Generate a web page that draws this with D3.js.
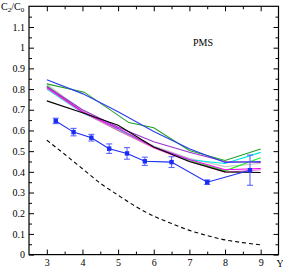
<!DOCTYPE html>
<html>
<head>
<meta charset="utf-8">
<script src="https://cdn.jsdelivr.net/npm/d3@7"></script>
<style>
  body { margin: 0; background: #fff; }
  svg text { font-family: "Liberation Serif", "DejaVu Serif", serif; }
</style>
</head>
<body>
<div id="chart"></div>
<script>
// curves at Y = 3..9 (green has an extra knee)
var xsInt = [3, 4, 5, 6, 7, 8, 9];
var xsGreen = [3, 4.05, 5.3, 6, 7, 8, 9];
var greenY   = [0.825, 0.785, 0.638, 0.613, 0.503, 0.455, 0.510];
var blueY    = [0.845, 0.778, 0.690, 0.595, 0.512, 0.445, 0.450];
var purpleY  = [0.812, 0.700, 0.615, 0.545, 0.495, 0.450, 0.445];
var grayY    = [0.824, 0.695, 0.610, 0.525, 0.465, 0.425, 0.440];
var ltGreenY = [0.816, 0.690, 0.600, 0.520, 0.455, 0.405, 0.468];
var magentaY = [0.808, 0.690, 0.610, 0.520, 0.460, 0.410, 0.416];
var pinkY    = [0.805, 0.688, 0.600, 0.515, 0.450, 0.398, 0.410];
var cyanY    = [0.800, 0.685, 0.605, 0.520, 0.458, 0.440, 0.494];
var blackY   = [0.743, 0.686, 0.625, 0.520, 0.450, 0.400, 0.397];

// dashed curve
var dashX = [3, 3.5, 4, 4.5, 5, 5.5, 6, 6.5, 7, 7.5, 8, 8.5, 9];
var dashY = [0.553, 0.485, 0.415, 0.345, 0.287, 0.232, 0.186, 0.150, 0.117, 0.092, 0.071, 0.058, 0.047];

// measured points with errors
var dataX   = [3.25, 3.75, 4.25, 4.75, 5.25, 5.75, 6.5, 7.5, 8.7];
var dataY   = [0.646, 0.592, 0.565, 0.512, 0.489, 0.451, 0.447, 0.350, 0.408];
var dataErr = [0.013, 0.018, 0.016, 0.023, 0.028, 0.020, 0.026, 0.011, 0.073];

var xTicks = [3, 4, 5, 6, 7, 8, 9];
var xMinor = [3.5, 4.5, 5.5, 6.5, 7.5, 8.5];
var yTicks = [0, 0.1, 0.2, 0.3, 0.4, 0.5, 0.6, 0.7, 0.8, 0.9, 1, 1.1];
var yMinor = d3.range(0.05, 1.2, 0.1);

var series = [
  {xs: xsInt, ys: grayY, color: '#c8c8c8'},
  {xs: xsInt, ys: ltGreenY, color: '#22ee22'},
  {xs: xsInt, ys: cyanY, color: '#00e5e5'},
  {xs: xsInt, ys: pinkY, color: '#ff66cc'},
  {xs: xsInt, ys: magentaY, color: '#ee00ee'},
  {xs: xsInt, ys: purpleY, color: '#9933cc'},
  {xs: xsInt, ys: blackY, color: '#000000'},
  {xs: xsGreen, ys: greenY, color: '#22a022'},
  {xs: xsInt, ys: blueY, color: '#2a3cf0'}
];

var fullWidth = 283, fullHeight = 268;
var margin = {top: 6.3, right: 4.5, bottom: 13.4, left: 29};
var width = fullWidth - margin.left - margin.right;
var height = fullHeight - margin.top - margin.bottom;

var x = d3.scaleLinear().domain([2.5, 9.5]).range([0, width]);
var y = d3.scaleLinear().domain([0, 1.2]).range([height, 0]);

var svg = d3.select('#chart').append('svg')
    .attr('width', fullWidth)
    .attr('height', fullHeight)
  .append('g')
    .attr('transform', 'translate(' + margin.left + ',' + margin.top + ')');

// axes, ticks pointing inward
function styleAxis(g) {
  g.select('.domain').remove();
  g.selectAll('line').attr('stroke', '#000').attr('stroke-width', 1);
  g.selectAll('text').attr('font-size', 10).attr('fill', '#000');
}

svg.append('g')
  .attr('transform', 'translate(0,' + height + ')')
  .call(d3.axisBottom(x).tickValues(xTicks).tickSize(-5).tickPadding(4).tickFormat(d3.format('d')))
  .call(styleAxis);
svg.append('g')
  .attr('transform', 'translate(0,' + height + ')')
  .call(d3.axisBottom(x).tickValues(xMinor).tickSize(-3).tickFormat(''))
  .call(styleAxis);
svg.append('g')
  .call(d3.axisTop(x).tickValues(xTicks).tickSize(-5).tickFormat(''))
  .call(styleAxis);
svg.append('g')
  .call(d3.axisTop(x).tickValues(xMinor).tickSize(-3).tickFormat(''))
  .call(styleAxis);

svg.append('g')
  .call(d3.axisLeft(y).tickValues(yTicks).tickSize(-5).tickPadding(4).tickFormat(d3.format('')))
  .call(styleAxis);
svg.append('g')
  .call(d3.axisLeft(y).tickValues(yMinor).tickSize(-3).tickFormat(''))
  .call(styleAxis);
svg.append('g')
  .attr('transform', 'translate(' + width + ',0)')
  .call(d3.axisRight(y).tickValues(yTicks).tickSize(-5).tickFormat(''))
  .call(styleAxis);
svg.append('g')
  .attr('transform', 'translate(' + width + ',0)')
  .call(d3.axisRight(y).tickValues(yMinor).tickSize(-3).tickFormat(''))
  .call(styleAxis);

svg.append('rect')
  .attr('width', width)
  .attr('height', height)
  .attr('fill', 'none')
  .attr('stroke', '#000')
  .attr('stroke-width', 1.2);

var line = d3.line()
  .x(function(d) { return x(d[0]); })
  .y(function(d) { return y(d[1]); });

series.forEach(function(s) {
  svg.append('path')
    .datum(d3.zip(s.xs, s.ys))
    .attr('fill', 'none')
    .attr('stroke', s.color)
    .attr('stroke-width', 1.1)
    .attr('d', line);
});

// data with error bars
var pts = dataX.map(function(v, i) { return {x: v, y: dataY[i], e: dataErr[i]}; });

svg.append('path')
  .datum(pts.map(function(d) { return [d.x, d.y]; }))
  .attr('fill', 'none')
  .attr('stroke', '#1a2cf5')
  .attr('stroke-width', 1.1)
  .attr('d', line);

var eb = svg.selectAll('.err').data(pts).enter().append('g').attr('class', 'err');
eb.append('line')
  .attr('x1', function(d) { return x(d.x); })
  .attr('x2', function(d) { return x(d.x); })
  .attr('y1', function(d) { return y(d.y - d.e); })
  .attr('y2', function(d) { return y(d.y + d.e); })
  .attr('stroke', '#5a64ff').attr('stroke-width', 1.1);
[-1, 1].forEach(function(sg) {
  eb.append('line')
    .attr('x1', function(d) { return x(d.x) - 3; })
    .attr('x2', function(d) { return x(d.x) + 3; })
    .attr('y1', function(d) { return y(d.y + sg * d.e); })
    .attr('y2', function(d) { return y(d.y + sg * d.e); })
    .attr('stroke', '#5a64ff').attr('stroke-width', 1.1);
});
eb.append('rect')
  .attr('x', function(d) { return x(d.x) - 2.2; })
  .attr('y', function(d) { return y(d.y) - 2.2; })
  .attr('width', 4.4)
  .attr('height', 4.4)
  .attr('fill', '#1a2cf5');

svg.append('path')
  .datum(d3.zip(dashX, dashY))
  .attr('fill', 'none')
  .attr('stroke', '#000')
  .attr('stroke-width', 1.1)
  .attr('stroke-dasharray', '4,3')
  .attr('d', line.curve(d3.curveMonotoneX));

// labels
var yl = svg.append('text')
  .attr('x', -28)
  .attr('y', 4)
  .attr('font-size', 10);
yl.append('tspan').text('C');
yl.append('tspan').attr('font-size', 7).attr('dy', 2).text('2');
yl.append('tspan').attr('dy', -2).text('/C');
yl.append('tspan').attr('font-size', 7).attr('dy', 2).text('0');

svg.append('text')
  .attr('x', width + 1.5)
  .attr('y', height + 12)
  .attr('font-size', 10)
  .attr('text-anchor', 'middle')
  .text('Y');

svg.append('text')
  .attr('x', x(7.38))
  .attr('y', y(1.0) - 2)
  .attr('font-size', 10)
  .attr('text-anchor', 'middle')
  .text('PMS');
</script>
</body>
</html>
